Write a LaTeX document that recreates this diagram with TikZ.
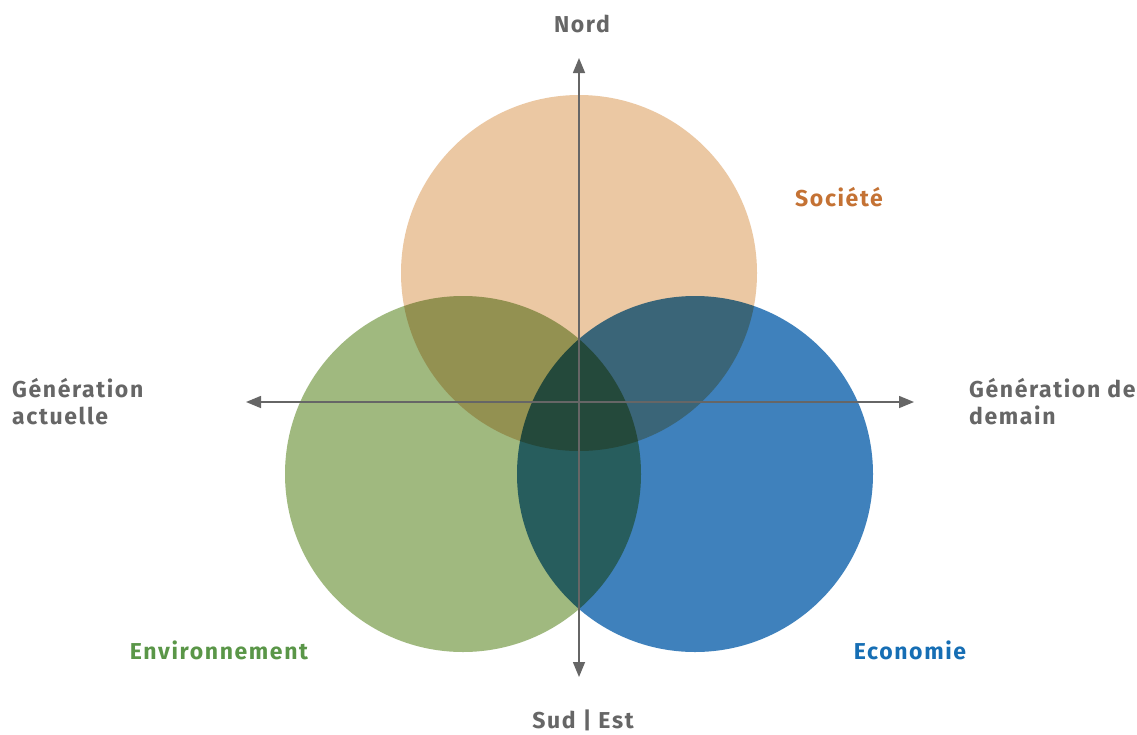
\documentclass[tikz,border=0pt]{standalone}
\usepackage{fontspec}
\setmainfont{Fira Sans}
\usetikzlibrary{arrows.meta}
\definecolor{societe}{RGB}{235,200,163}
\definecolor{environ}{RGB}{160,185,127}
\definecolor{econ}{RGB}{63,129,188}
\definecolor{axisgray}{RGB}{102,102,102}
\definecolor{societetxt}{RGB}{196,114,52}
\definecolor{environtxt}{RGB}{90,150,72}
\definecolor{econtxt}{RGB}{22,110,180}
\begin{document}
\begin{tikzpicture}[x=1pt, y=-1pt,
            disc/.style={circle, minimum size=356pt, inner sep=0pt, blend mode=multiply},
            lbl/.style={font=\fontsize{23}{27}\selectfont\bfseries\addfontfeatures{LetterSpace=7},
            text=axisgray, inner sep=0pt},
            axis/.style={axisgray, line width=1.5pt, -{Triangle[length=15pt, width=12pt]}}
        ]
            \useasboundingbox (0,0) rectangle (1137,734);
            \node (soc) [disc, fill=societe] at (579,273) {};
            \node (env) [disc, fill=environ] at (463,474) {};
            \node (eco) [disc, fill=econ] at (695,474) {};

            \coordinate (origin) at (579,402);
            \coordinate (north) at (579,58);
            \coordinate (south) at (579,677);
            \coordinate (west) at (246,402);
            \coordinate (east) at (914,402);
            \draw [axis] (origin) -- (north);
            \draw [axis] (origin) -- (south);
            \draw [axis] (origin) -- (west);
            \draw [axis] (origin) -- (east);

            \node (nord) [lbl] at (582,24) {Nord};
            \node (sud) [lbl] at (583,720) {Sud | Est};
            \node (actuelle) [lbl, anchor=north west, align=left] at (12,378) {Génération\\actuelle};
            \node (demain) [lbl, anchor=north west, align=left] at (969,378) {Génération de\\demain};
            \node (societe) [lbl, text=societetxt] at (839,197) {Société};
            \node (environnement) [lbl, text=environtxt] at (219,650) {Environnement};
            \node (economie) [lbl, text=econtxt] at (910,650) {Economie};
        \end{tikzpicture}
\end{document}
